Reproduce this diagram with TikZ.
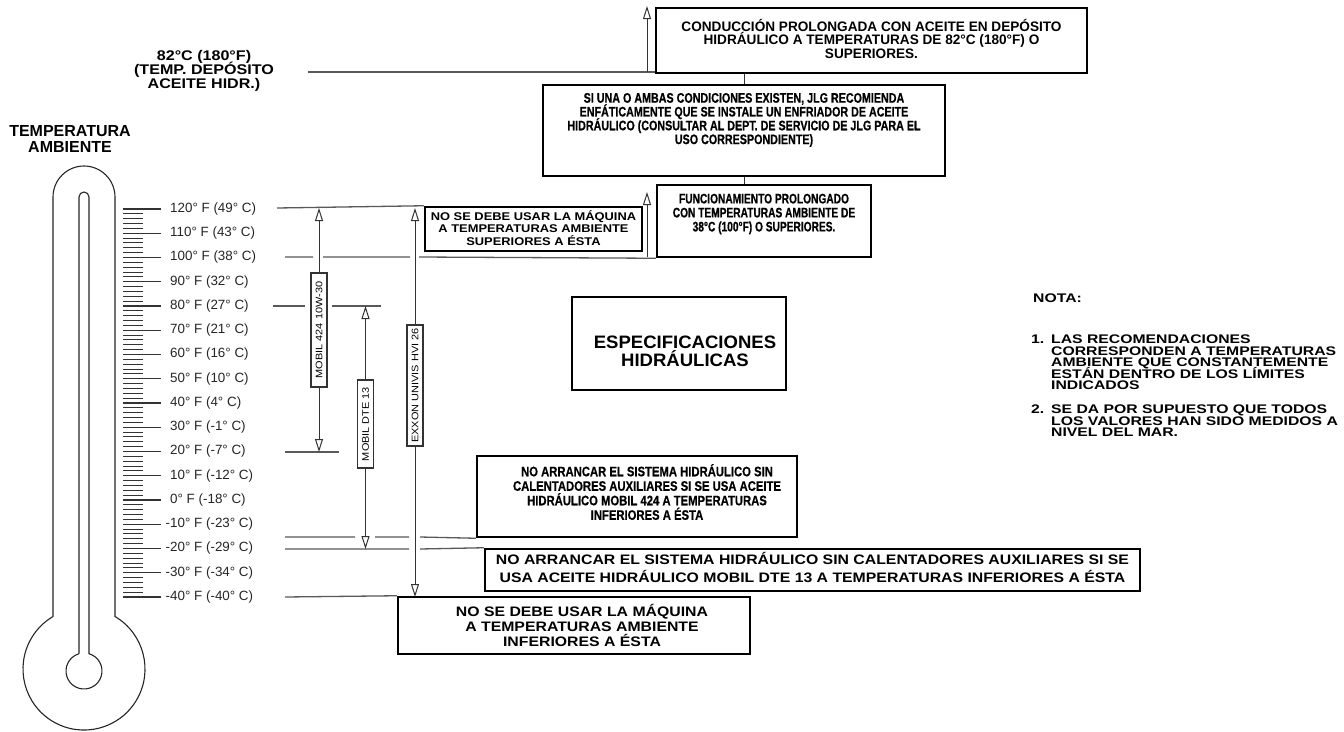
\documentclass[tikz,border=0pt]{standalone}
\usepackage{fontspec}
\usepackage{graphicx}
\setmainfont{Liberation Sans}
\newfontfamily\widefont{Liberation Sans}[FakeStretch=1.15]
\newfontfamily\fsA{Liberation Sans}[FakeStretch=0.99]
\newfontfamily\fsB{Liberation Sans}[FakeStretch=0.78,FakeBold=0.6]
\newfontfamily\fsC{Liberation Sans}[FakeStretch=0.74,FakeBold=0.6]
\newfontfamily\fsE{Liberation Sans}[FakeStretch=1.03]
\newfontfamily\fsF{Liberation Sans}[FakeStretch=0.82,FakeBold=0.5]
\newfontfamily\fsN{Liberation Sans}[FakeStretch=1.26]
\usetikzlibrary{arrows.meta}
\newcommand\bxf[3]{#1\bfseries\fontsize{#2}{#3}\selectfont\lineskiplimit=-100pt\lineskip=0pt}
\tikzset{
  therm/.style={line width=1.1pt, draw=black!85},
  tick/.style={line width=1pt, draw=black!80},
  tl/.style={inner sep=0pt, anchor=west, font=\fontsize{13.4}{14}\selectfont, text=black!85},
  bx/.style={draw=black, line width=2.5pt, inner sep=0pt, fill=white},
  btxt/.style={align=center, inner sep=0pt},
  ntxt/.style={inner sep=0pt, anchor=north west, align=left, font=\bxf{\fsN}{12.5}{11.5}},
  ref/.style={line width=1.3pt, draw=black!65},
  conn/.style={line width=1pt, draw=black!80},
  arr/.style={line width=1pt, draw=black!80, -{Triangle[open, length=13pt, width=8pt]}},
  lbl/.style={draw=black!80, line width=1.1pt, minimum width=16pt, inner sep=0pt, fill=white,
              font=\widefont\fontsize{9.5}{10}\selectfont},
}
\begin{document}
\begin{tikzpicture}[x=1pt,y=1pt]
\path[fill=white,use as bounding box] (0,0) rectangle (1344,-731);

% ---------- thermometer ----------
\draw[therm] (53,-616.5) -- (53,-197) arc[start angle=180,end angle=0,radius=31]
  -- (115,-616.5) arc[start angle=59.46,end angle=-239.46,radius=61];
\draw[therm] (79,-653.7) -- (79,-197) arc[start angle=180,end angle=0,radius=5]
  -- (89,-653.7) arc[start angle=73.87,end angle=-253.87,radius=18];
\foreach \i in {0,...,80}{\draw[tick] (123,{-209-\i*4.85}) -- (143,{-209-\i*4.85});}
\foreach \j in {0,...,16}{\draw[tick,line width=1.2pt] (123,{-209-\j*24.25}) -- (161,{-209-\j*24.25});}
\foreach \j/\t in {0/{120° F (49° C)},1/{110° F (43° C)},2/{100° F (38° C)},3/{90° F (32° C)},
  4/{80° F (27° C)},5/{70° F (21° C)},6/{60° F (16° C)},7/{50° F (10° C)},8/{40° F (4° C)},
  9/{30° F (-1° C)},10/{20° F (-7° C)},11/{10° F (-12° C)},12/{0° F (-18° C)},
  13/{\llap{-}10° F (-23° C)},14/{\llap{-}20° F (-29° C)},15/{\llap{-}30° F (-34° C)},16/{\llap{-}40° F (-40° C)}}
  {\node[tl] (lab\j) at (170,{-209-\j*24.25}) {\t};}

\node[btxt, font=\bxf{\rmfamily}{16}{16}] (tamb) at (70,-139) {TEMPERATURA\\AMBIENTE};
\node[btxt, font=\bxf{\widefont}{14}{14}] (t82) at (204,-71) {82°C (180°F)\\(TEMP. DEPÓSITO\\ACEITE HIDR.)};

% ---------- boxes ----------
\node[bx, minimum width=431pt, minimum height=65pt] (A) at (871.5,-40.5) {};
\node[btxt, font=\bxf{\fsA}{13.75}{13.5}] (At) at (871.5,-38.5) {CONDUCCIÓN PROLONGADA CON ACEITE EN DEPÓSITO\\HIDRÁULICO A TEMPERATURAS DE 82°C (180°F) O\\SUPERIORES.};
\node[bx, minimum width=402pt, minimum height=91pt] (B) at (744,-130.5) {};
\node[btxt, font=\bxf{\fsB}{13.75}{13.8}] (Bt) at (744,-120) {SI UNA O AMBAS CONDICIONES EXISTEN, JLG RECOMIENDA\\ENFÁTICAMENTE QUE SE INSTALE UN ENFRIADOR DE ACEITE\\HIDRÁULICO (CONSULTAR AL DEPT. DE SERVICIO DE JLG PARA EL\\USO CORRESPONDIENTE)};
\node[bx, minimum width=214pt, minimum height=72pt] (C) at (764,-221) {};
\node[btxt, font=\bxf{\fsC}{13.75}{14}] (Ct) at (764,-214) {FUNCIONAMIENTO PROLONGADO\\CON TEMPERATURAS AMBIENTE DE\\38°C (100°F) O SUPERIORES.};
\node[bx, minimum width=217pt, minimum height=44pt] (D) at (533.5,-229) {};
\node[btxt, font=\bxf{\widefont}{11.2}{12.5}] (Dt) at (533.5,-228) {NO SE DEBE USAR LA MÁQUINA\\A TEMPERATURAS AMBIENTE\\SUPERIORES A ÉSTA};
\node[bx, minimum width=214pt, minimum height=93pt] (E) at (679,-343.5) {};
\node[btxt, font=\bxf{\fsE}{18}{18}] (Et) at (685,-351) {ESPECIFICACIONES\\HIDRÁULICAS};
\node[bx, minimum width=320pt, minimum height=81pt] (F) at (637,-496.5) {};
\node[btxt, font=\bxf{\fsF}{13.75}{14.5}] (Ft) at (647,-492) {NO ARRANCAR EL SISTEMA HIDRÁULICO SIN\\CALENTADORES AUXILIARES SI SE USA ACEITE\\HIDRÁULICO MOBIL 424 A TEMPERATURAS\\INFERIORES A ÉSTA};
\node[bx, minimum width=655pt, minimum height=42pt] (G) at (812.5,-570) {};
\node[btxt, font=\bxf{\widefont}{13.75}{17.5}] (Gt) at (812.5,-567.5) {NO ARRANCAR EL SISTEMA HIDRÁULICO SIN CALENTADORES AUXILIARES SI SE\\USA ACEITE HIDRÁULICO MOBIL DTE 13 A TEMPERATURAS INFERIORES A ÉSTA};
\node[bx, minimum width=352pt, minimum height=57pt] (H) at (574,-625.5) {};
\node[btxt, font=\bxf{\widefont}{13.75}{15}] (Ht) at (582,-625) {NO SE DEBE USAR LA MÁQUINA\\A TEMPERATURAS AMBIENTE\\INFERIORES A ÉSTA};

% ---------- nota ----------
\node[ntxt, anchor=west] (nota) at (1033,-298) {NOTA:};
\node[ntxt] (n1no) at (1031,-335) {1.};
\node[ntxt] (n1) at (1051,-335) {LAS RECOMENDACIONES\\CORRESPONDEN A TEMPERATURAS\\AMBIENTE QUE CONSTANTEMENTE\\ESTÁN DENTRO DE LOS LÍMITES\\INDICADOS};
\node[ntxt] (n2no) at (1031,-405) {2.};
\node[ntxt] (n2) at (1051,-405) {SE DA POR SUPUESTO QUE TODOS\\LOS VALORES HAN SIDO MEDIDOS A\\NIVEL DEL MAR.};

% ---------- oil range bars ----------
\node[lbl, minimum height=114pt] (m424) at (319,-330) {\rotatebox{90}{MOBIL 424 10W-30}};
\node[lbl, minimum height=88pt] (dte) at (365.5,-424) {\rotatebox{90}{MOBIL DTE 13}};
\node[lbl, minimum height=121pt] (exx) at (415,-385.5) {\rotatebox{90}{EXXON UNIVIS HVI 26}};

\coordinate (x744) at (744,0);
\draw[conn] (A.south -| x744) -- (B.north -| x744);
\draw[conn] (B.south -| x744) -- (C.north -| x744);

% reference lines
\coordinate (p82) at (308,-72);
\draw[ref] (p82) -- (A.west |- p82);
\coordinate (u1s) at (647,-72); \coordinate (u1e) at (647,-6);
\draw[arr] (u1s) -- (u1e);

\coordinate (p120) at (277,-208);
\draw[ref] (p120) -- (D.north west);

\draw[ref] (285,-257) -- (313,-257) (323,-257) -- (410,-257) (419,-257) -- (C.south west);
\coordinate (u2s) at (647,-257); \coordinate (u2e) at (647,-192);
\draw[arr] (u2s) -- (u2e);

\draw[ref] (273,-306) -- (305,-306) (332,-306) -- (381,-306);
\draw[ref] (285,-452) -- (339,-452);
\draw[ref] (285,-537) -- (355,-537) (375,-537) -- (409,-537) (420,-537) -- (F.south west);
\draw[ref] (285,-549) -- (409,-549) (420,-549) -- (G.north west);
\draw[ref] (285,-597) -- (H.north west);

% arrows of bars
\draw[arr] (m424.north) -- (319,-208);
\draw[arr] (m424.south) -- (319,-452);
\draw[arr] (dte.north) -- (365.5,-306);
\draw[arr] (dte.south) -- (365.5,-549);
\draw[arr] (exx.north) -- (415,-208);
\draw[arr] (exx.south) -- (415,-597);
\end{tikzpicture}
\end{document}
